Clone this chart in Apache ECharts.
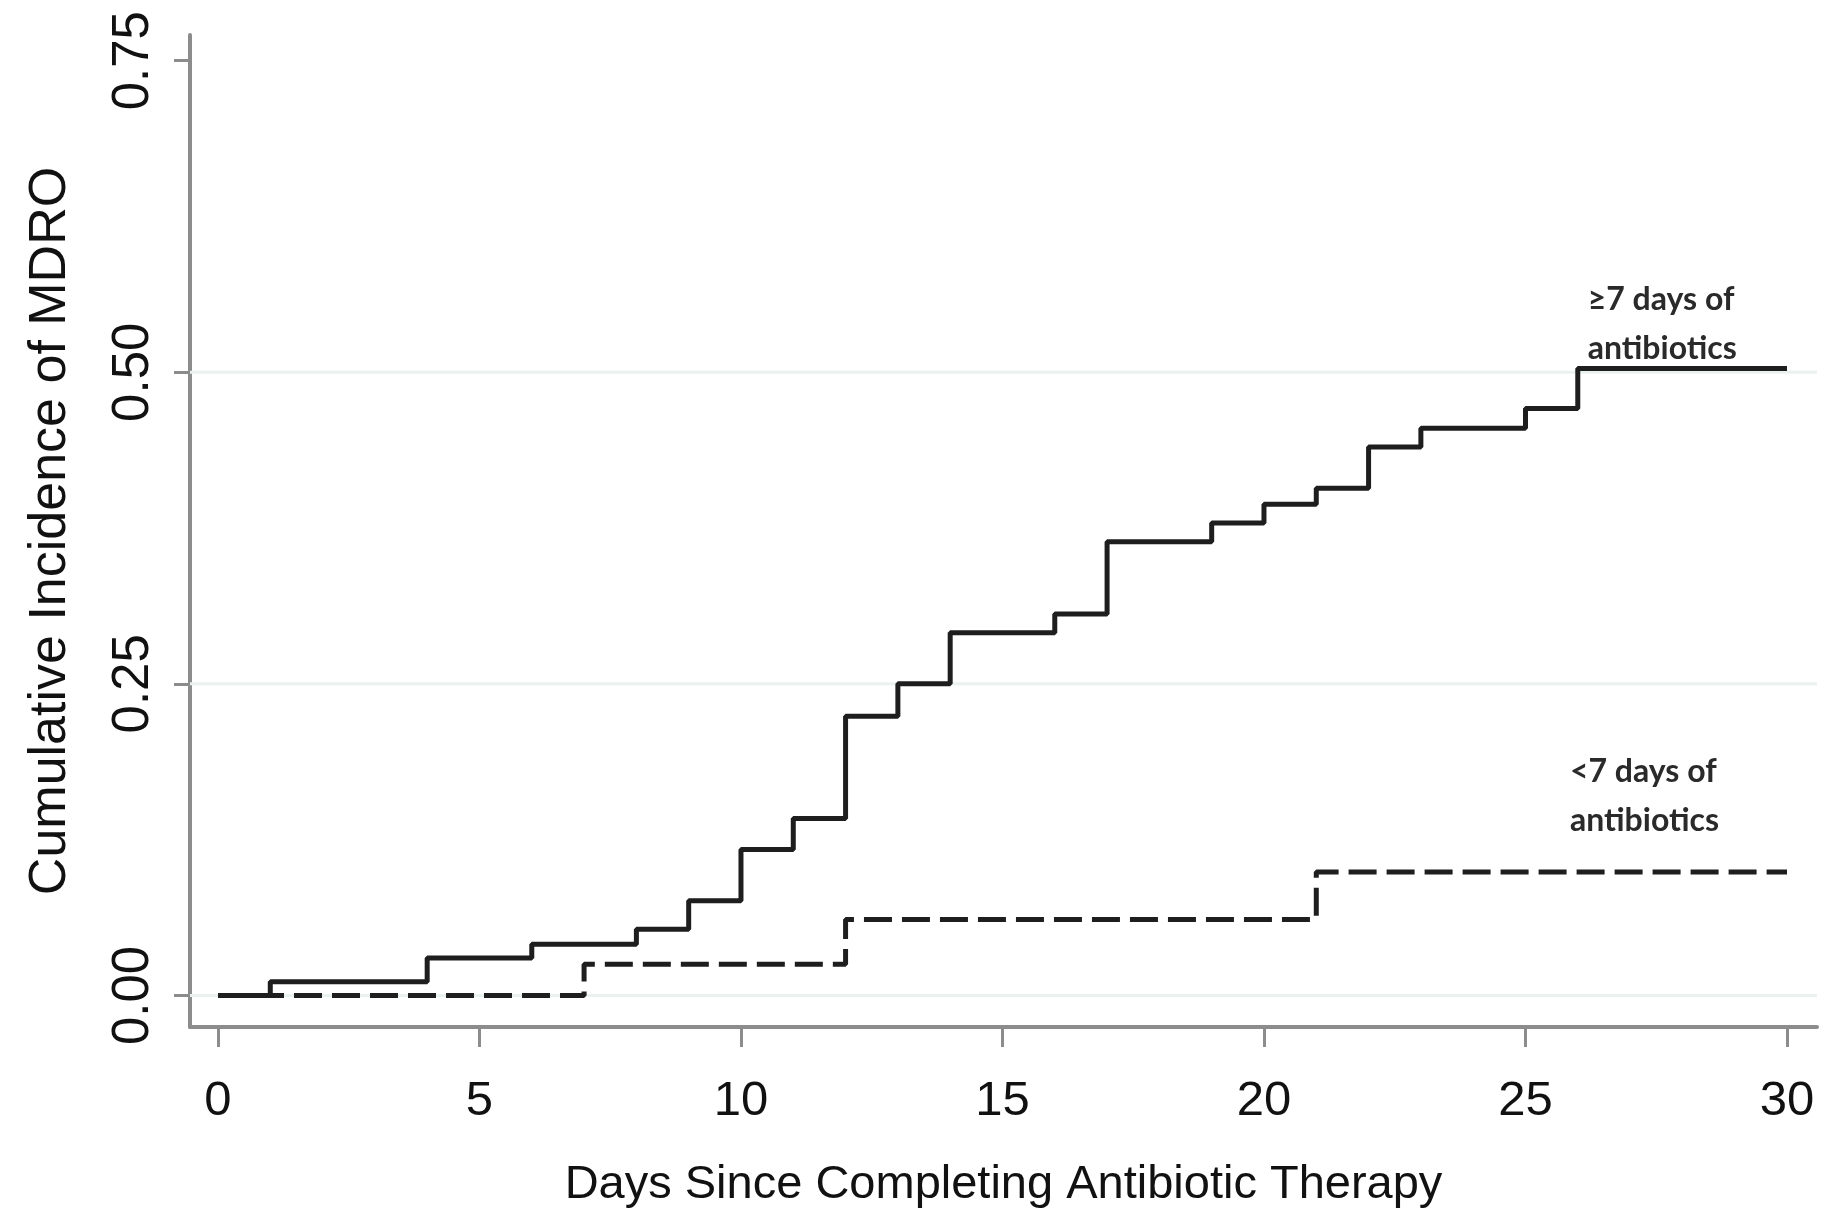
<!DOCTYPE html>
<html>
<head>
<meta charset="utf-8">
<title>Cumulative Incidence of MDRO</title>
<script src="https://cdn.jsdelivr.net/npm/echarts@6/dist/echarts.min.js"></script>
<style>
  html, body { margin: 0; padding: 0; background: #fff; }
  #chart { width: 1837px; height: 1214px; }
</style>
</head>
<body>
<div id="chart"></div>
<script>
// step data (day of event, cumulative incidence after it)
var longDays   = [0, 1, 4, 6, 8, 9, 10, 11, 12, 13, 14, 16, 17, 19, 20, 21, 22, 23, 25, 26, 30];
var longInc    = [0, 0.011, 0.030, 0.041, 0.053, 0.076, 0.117, 0.142, 0.224, 0.250, 0.291, 0.306, 0.364, 0.379, 0.394, 0.407, 0.440, 0.455, 0.471, 0.503, 0.503];
var shortDays  = [0, 7, 12, 21, 30];
var shortInc   = [0, 0.025, 0.061, 0.099, 0.099];

var xTicks = [0, 5, 10, 15, 20, 25, 30];
var yTicks = [0, 0.25, 0.5, 0.75];
var gridValues = [0, 0.25, 0.5];

var longLabel  = '\u22657 days of\nantibiotics';
var shortLabel = '<7 days of\nantibiotics';

var X_MIN = -0.535, X_MAX = 30.574;
var Y_MIN = -0.02534, Y_MAX = 0.7706;

function pairs(xs, ys){
    return xs.map(function(x, i){ return [x, ys[i]]; });
}

var labelFont = "'Liberation Sans', Arial, sans-serif";
var axisGray = '#8c8c8c';

var chart = echarts.init(document.getElementById('chart'), null, {renderer: 'canvas'});

// faint horizontal grid lines, drawn under the curves
var gridSeries = gridValues.map(function(v){
    return {
        type: 'line',
        z: 1,
        silent: true,
        showSymbol: false,
        data: [[X_MIN, v], [X_MAX, v]],
        lineStyle: { color: '#e9f2ef', width: 3 }
    };
});

var noteLabel = function(text){
    return {
        show: true,
        formatter: text,
        fontFamily: 'Lato, "Open Sans", sans-serif',
        fontWeight: 'bold',
        fontSize: 32,
        lineHeight: 49,
        color: '#2a2a2a',
        align: 'left',
        verticalAlign: 'middle'
    };
};

var option = {
    animation: false,
    backgroundColor: '#ffffff',
    grid: { left: 190, right: 20, top: 35, bottom: 174 },
    xAxis: {
        type: 'value',
        min: X_MIN,
        max: X_MAX,
        name: 'Days Since Completing Antibiotic Therapy',
        nameLocation: 'middle',
        nameGap: 135,
        nameTextStyle: { fontFamily: labelFont, fontSize: 47, color: '#111' },
        axisLine: { onZero: false, lineStyle: { color: axisGray, width: 4 } },
        axisTick: { show: true, customValues: xTicks, length: 20, lineStyle: { color: axisGray, width: 3 } },
        axisLabel: { customValues: xTicks, margin: 50, fontFamily: labelFont, fontSize: 49, color: '#111' },
        splitLine: { show: false }
    },
    yAxis: {
        type: 'value',
        min: Y_MIN,
        max: Y_MAX,
        name: 'Cumulative Incidence of MDRO',
        nameLocation: 'middle',
        nameRotate: 90,
        nameGap: 113,
        nameTextStyle: { fontFamily: labelFont, fontSize: 52, color: '#111' },
        axisLine: { onZero: false, lineStyle: { color: axisGray, width: 4 } },
        axisTick: { show: true, customValues: yTicks, length: 16, lineStyle: { color: axisGray, width: 3 } },
        axisLabel: {
            customValues: yTicks,
            rotate: 90,
            margin: 31,
            fontFamily: labelFont,
            fontSize: 51,
            color: '#111',
            formatter: function(v){ return v.toFixed(2); }
        },
        splitLine: { show: false }
    },
    series: gridSeries.concat([
        {
            name: '<7 days',
            type: 'line',
            z: 3,
            step: 'end',
            showSymbol: false,
            data: pairs(shortDays, shortInc),
            lineStyle: { color: '#1e1e1e', width: 5, type: [28, 10], cap: 'butt' },
            markPoint: {
                symbol: 'circle',
                symbolSize: 0,
                label: noteLabel(shortLabel),
                data: [{ coord: [25.85, 0.1600] }]
            }
        },
        {
            name: '>=7 days',
            type: 'line',
            z: 4,
            step: 'end',
            showSymbol: false,
            data: pairs(longDays, longInc),
            lineStyle: { color: '#1e1e1e', width: 5 },
            markPoint: {
                symbol: 'circle',
                symbolSize: 0,
                label: noteLabel(longLabel),
                data: [{ coord: [26.19, 0.5385] }]
            }
        }
    ])
};

chart.setOption(option);
</script>
</body>
</html>
